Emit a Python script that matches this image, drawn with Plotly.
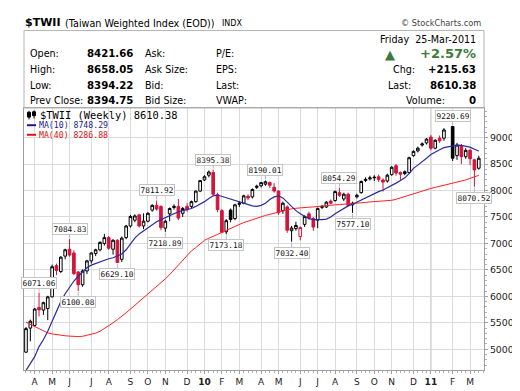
import plotly.graph_objects as go
import pandas as pd

# ---------------- data (weekly bars, dated by week start) ----------------
weeks = pd.date_range("2009-03-23", periods=105, freq="W-MON")

open_ = [4945, 5400, 5450, 5790, 5740, 5770, 5990, 6580, 6470, 6760,
         6890, 6820, 6460, 6220, 6480, 6670, 6810, 6880, 7000, 7110,
         6890, 7060, 6700, 7110, 7330, 7440, 7540, 7330, 7420, 7630,
         7720, 7700, 7290, 7560, 7680, 7700, 7570, 7700, 7700, 7790,
         7990, 8200, 8290, 8340, 7920, 7620, 7220, 7630, 7470, 7740,
         7760, 7890, 7880, 8060, 8090, 8120, 8150, 8060, 7990, 7620,
         7690, 7240, 7280, 7130, 7360, 7560, 7470, 7440, 7680, 7690,
         7800, 7810, 7960, 7840, 7930, 7730, 7880, 7960, 8190, 8220,
         8240, 8260, 8200, 8180, 8300, 8470, 8340, 8355, 8340, 8660,
         8750, 8860, 8900, 9010, 8800, 8990, 8990, None, 9210, 8660,
         8850, 8640, 8760, 8580, 8421.66]
high = [5420, 5560, 5780, 6071.06, 5900, 6010, 6600, 6620, 6760, 6900,
        7084.83, 6870, 6480, 6510, 6690, 6830, 6900, 7040, 7180, 7140,
        7080, 7080, 7130, 7350, 7540, 7550, 7560, 7570, 7590, 7740,
        7811.92, 7720, 7450, 7680, 7740, 7840, 7690, 7760, 7810, 8000,
        8200, 8290, 8380, 8395.38, 7960, 7650, 7460, 7660, 7750, 7800,
        7920, 7930, 8040, 8110, 8160, 8190.01, 8170, 8140, 8000, 7790,
        7720, 7330, 7410, 7320, 7530, 7600, 7500, 7680, 7730, 7800,
        7830, 8000, 8054.29, 7960, 7960, 7790, 7940, 8190, 8250, 8280,
        8290, 8300, 8230, 8320, 8460, 8500, 8360, 8380, 8640, 8760,
        8830, 8910, 8990, 9050, 8970, 9040, 9180, None, 9220.69, 8900,
        8880, 8800, 8790, 8600, 8658.05]
low = [4930, 5150, 5420, 5620, 5650, 5550, 5980, 6400, 6440, 6700,
       6750, 6400, 6100.08, 6180, 6420, 6620, 6760, 6850, 6960, 6880,
       6790, 6629.10, 6650, 7080, 7300, 7400, 7300, 7270, 7400, 7600,
       7620, 7250, 7218.89, 7420, 7640, 7440, 7500, 7600, 7660, 7770,
       7970, 8180, 8250, 7900, 7590, 7190, 7173.18, 7400, 7440, 7690,
       7740, 7820, 7850, 8030, 8060, 8090, 8050, 7960, 7540, 7560,
       7200, 7032.40, 7240, 7060, 7310, 7450, 7240, 7290, 7650, 7670,
       7740, 7790, 7880, 7800, 7700, 7577.10, 7850, 7940, 8160, 8190,
       8180, 8160, 7980, 8150, 8280, 8280, 8200, 8290, 8320, 8640,
       8720, 8830, 8870, 8760, 8780, 8900, 8940, None, 8560, 8580,
       8500, 8600, 8480, 8070.52, 8394.22]
close = [5390, 5530, 5760, 5745, 5880, 5990, 6560, 6490, 6740, 6880,
         6780, 6430, 6220, 6480, 6670, 6820, 6880, 7020, 7110, 6910,
         7060, 6640, 7100, 7330, 7510, 7520, 7330, 7420, 7570, 7720,
         7650, 7300, 7420, 7660, 7700, 7480, 7660, 7640, 7790, 7990,
         8188, 8260, 8350, 7930, 7640, 7210, 7430, 7452, 7730, 7760,
         7900, 7860, 8020, 8080, 8150, 8165, 8100, 7990, 7580, 7760,
         7250, 7290, 7340, 7300, 7510, 7480, 7310, 7660, 7700, 7780,
         7760, 7980, 7910, 7930, 7720, 7760, 7910, 8170, 8210, 8238,
         8250, 8210, 8160, 8290, 8440, 8330, 8310, 8320, 8620, 8740,
         8800, 8880, 8972, 8800, 8950, 8940, 9145, None, 8610, 8860,
         8640, 8760, 8600, 8390, 8610.38]
ma10 = [4600, 4730, 4860, 5050, 5180, 5340, 5530, 5720, 5900, 6050,
        6180, 6290, 6380, 6470, 6540, 6590, 6620, 6650, 6690, 6710,
        6730, 6760, 6800, 6880, 6990, 7100, 7180, 7240, 7300, 7360,
        7410, 7450, 7490, 7530, 7570, 7600, 7620, 7640, 7660, 7700,
        7740, 7790, 7850, 7900, 7915, 7890, 7860, 7830, 7800, 7780,
        7760, 7735, 7710, 7700, 7720, 7760, 7830, 7880, 7900, 7860,
        7780, 7700, 7620, 7560, 7510, 7470, 7450, 7445, 7450, 7460,
        7500, 7560, 7610, 7660, 7710, 7740, 7780, 7830, 7870, 7900,
        7940, 7980, 8010, 8050, 8090, 8140, 8190, 8240, 8320, 8420,
        8480, 8540, 8610, 8680, 8730, 8770, 8810, None, 8850, 8860,
        8855, 8840, 8820, 8780, 8748.29]
ma40 = [5510, 5470, 5430, 5390, 5340, 5310, 5290, 5275, 5265, 5255,
        5248, 5242, 5240, 5245, 5262, 5285, 5305, 5340, 5390, 5440,
        5500, 5560, 5620, 5690, 5760, 5830, 5900, 5970, 6040, 6110,
        6180, 6260, 6330, 6410, 6500, 6590, 6680, 6780, 6860, 6920,
        6990, 7060, 7100, 7130, 7170, 7210, 7250, 7290, 7330, 7370,
        7395, 7420, 7450, 7480, 7510, 7530, 7550, 7570, 7590, 7620,
        7640, 7655, 7665, 7675, 7680, 7685, 7690, 7700, 7710, 7718,
        7725, 7730, 7735, 7740, 7745, 7755, 7765, 7770, 7775, 7785,
        7790, 7795, 7800, 7805, 7815, 7835, 7860, 7890, 7910, 7940,
        7970, 8000, 8020, 8040, 8060, 8080, 8100, None, 8130, 8150,
        8175, 8200, 8230, 8260, 8286.88]

pivot_high_idx = [3, 10, 30, 43, 55, 72, 98]
pivot_low_idx = [12, 21, 32, 46, 61, 75, 103]

month_letters = ["J", "F", "M", "A", "M", "J", "J", "A", "S", "O", "N", "D"]
y_ticks = [5000, 5500, 6000, 6500, 7000, 7500, 8000, 8500, 9000]

header_rows = [("Open:", "8421.66", "Ask:", "P/E:"),
               ("High:", "8658.05", "Ask Size:", "EPS:"),
               ("Low:", "8394.22", "Bid:", "Last:"),
               ("Prev Close:", "8394.75", "Bid Size:", "VWAP:")]

# ---------------- styling ----------------
RED = "#d3143c"
BLUE_LINE = "#2b2ba0"
RED_LINE = "#ff2020"
GRID = "#dadada"
SANS = "DejaVu Sans"
MONO = "DejaVu Sans Mono"

W, H = 520, 391
L, R, T, B = 16, 44, 100, 17
PW, PH = W - L - R, H - T - B


def px(x):
    return (x - L) / PW


def py(y):
    return (H - B - y) / PH


# split bars by colour rule (close vs previous close)
groups = {"black": [], "red": []}
for i in range(len(weeks)):
    if close[i] is None:
        continue
    prev = close[i - 1] if i > 0 else None
    key = "red" if (prev is not None and close[i] < prev) else "black"
    groups[key].append(i)

fig = go.Figure()
for key, col in (("black", "#000000"), ("red", RED)):
    idx = groups[key]
    fig.add_trace(go.Candlestick(
        x=[weeks[i] for i in idx],
        open=[open_[i] for i in idx], high=[high[i] for i in idx],
        low=[low[i] for i in idx], close=[close[i] for i in idx],
        increasing=dict(fillcolor="white", line=dict(color=col, width=1)),
        decreasing=dict(fillcolor=col, line=dict(color=col, width=1)),
        whiskerwidth=0, showlegend=False, hoverinfo="skip",
    ))

fig.add_trace(go.Scatter(x=weeks, y=ma40, mode="lines", connectgaps=True,
                         line=dict(color=RED_LINE, width=1), showlegend=False,
                         hoverinfo="skip"))
fig.add_trace(go.Scatter(x=weeks, y=ma10, mode="lines", connectgaps=True,
                         line=dict(color=BLUE_LINE, width=1.2), showlegend=False,
                         hoverinfo="skip"))

# month ticks at first week of each month
tickvals, ticktext, year_lines = [], [], []
for i in range(1, len(weeks)):
    if weeks[i].month != weeks[i - 1].month:
        tickvals.append(weeks[i])
        if weeks[i].month == 1:
            ticktext.append("<b>%02d</b>" % (weeks[i].year % 100))
            year_lines.append(weeks[i])
        else:
            ticktext.append(month_letters[weeks[i].month - 1])

annotations = []
label_font = dict(family=MONO, size=7.8, color="#111")
for i in pivot_high_idx:
    annotations.append(dict(x=weeks[i], y=high[i], xref="x", yref="y",
                            text="%.2f" % high[i], showarrow=True, ax=0, ay=-10,
                            arrowhead=0, arrowwidth=1, arrowcolor="#b8b8b8", standoff=1,
                            bgcolor="white", bordercolor="#c4c4c4", borderwidth=1, borderpad=0.5,
                            font=label_font))
for i in pivot_low_idx:
    annotations.append(dict(x=weeks[i], y=low[i], xref="x", yref="y",
                            text="%.2f" % low[i], showarrow=True, ax=0, ay=11,
                            arrowhead=0, arrowwidth=1, arrowcolor="#b8b8b8", standoff=1,
                            bgcolor="white", bordercolor="#c4c4c4", borderwidth=1, borderpad=0.5,
                            font=label_font))


def txt(x, y, s, anchor="left", size=9.5, color="#000", family=SANS):
    annotations.append(dict(x=px(x), y=py(y), xref="paper", yref="paper", text=s,
                            showarrow=False, xanchor=anchor, yanchor="middle",
                            font=dict(family=family, size=size, color=color)))


# title line
txt(15, 11, "<b>$TWII</b>", size=11)
txt(55, 11.5, "(Taiwan Weighted Index (EOD))", size=9.6)
txt(212, 11.5, "INDX", size=8)
txt(475, 11.5, "© StockCharts.com", anchor="right", size=8.2, color="#444")

# header box contents
row_y = [43.5, 60, 76, 92]
for (lab, val, c2, c3), y in zip(header_rows, row_y):
    txt(20, y, lab, size=9.6)
    txt(127, y, "<b>" + val + "</b>", anchor="right", size=10.2)
    txt(135, y, c2, size=9.6)
    txt(206, y, c3, size=9.6)
txt(470, 28, "Friday  25-Mar-2011", anchor="right", size=9.6)
txt(470, 43.5, "<b>+2.57%</b>", anchor="right", size=13, color="#3b7a3b")
txt(375, 44, "▲", size=13, color="#3b7a3b")
txt(383, 60, "Chg:", size=9.6)
txt(470, 60, "<b>+215.63</b>", anchor="right", size=10.2)
txt(378, 76, "Last:", size=9.6)
txt(470, 76, "<b>8610.38</b>", anchor="right", size=10.2)
txt(396, 92, "Volume:", size=9.6)
txt(470, 92, "<b>0</b>", anchor="right", size=10.2)

# in-chart legend
txt(30, 107.5, "$TWII (Weekly) 8610.38", size=10.4, family=MONO)
txt(29, 118, "MA(10) 8748.29", size=8.2, color="#1a1a8a", family=MONO)
txt(29, 128, "MA(40) 8286.88", size=8.2, color="#e01010", family=MONO)

shapes = [
    dict(type="rect", xref="paper", yref="paper", x0=px(16), x1=px(476), y0=py(100), y1=py(19),
         line=dict(color="#b4b4b4", width=1)),
    dict(type="line", xref="paper", yref="paper", x0=px(19), x1=px(28), y0=py(118), y1=py(118),
         line=dict(color="#1a1a8a", width=2)),
    dict(type="line", xref="paper", yref="paper", x0=px(19), x1=px(28), y0=py(128), y1=py(128),
         line=dict(color="#e01010", width=2)),
    # tiny candlestick icon
    dict(type="line", xref="paper", yref="paper", x0=px(21), x1=px(21), y0=py(103), y1=py(112),
         line=dict(color="#000", width=1)),
    dict(type="rect", xref="paper", yref="paper", x0=px(19.5), x1=px(22.5), y0=py(104.5), y1=py(109.5),
         line=dict(color="#000", width=1), fillcolor="#000"),
    dict(type="line", xref="paper", yref="paper", x0=px(26), x1=px(26), y0=py(102.5), y1=py(111),
         line=dict(color="#000", width=1)),
    dict(type="rect", xref="paper", yref="paper", x0=px(24.5), x1=px(27.5), y0=py(104), y1=py(108),
         line=dict(color="#000", width=1), fillcolor="#000"),
]
for d in year_lines:
    shapes.append(dict(type="line", xref="x", yref="paper", x0=d, x1=d, y0=0, y1=1,
                       line=dict(color="#b0b0b0", width=1), layer="below"))

x0 = weeks[0] - pd.Timedelta(days=3.2)
x1 = weeks[-1] + pd.Timedelta(days=8.4)

fig.update_layout(
    width=W, height=H, margin=dict(l=L, r=R, t=T, b=B),
    paper_bgcolor="white", plot_bgcolor="white",
    boxmode="overlay", boxgap=0.22, boxgroupgap=0.22,
    showlegend=False, annotations=annotations, shapes=shapes,
    xaxis=dict(type="date", range=[x0, x1], rangeslider=dict(visible=False),
               tickvals=tickvals, ticktext=ticktext, showgrid=True, gridcolor=GRID, gridwidth=1,
               ticks="outside", ticklen=3, tickcolor="#a0a0a0",
               minor=dict(ticks="outside", ticklen=2, tickcolor="#b0b0b0",
                          dtick=7 * 86400000, tick0=weeks[0], showgrid=False),
               showline=True, linecolor="#a0a0a0", linewidth=1, mirror=True, zeroline=False,
               tickfont=dict(family=SANS, size=9, color="#222"), tickangle=0, fixedrange=True),
    yaxis=dict(side="right", range=[4608, 9560], tickvals=y_ticks,
               ticktext=[str(v) for v in y_ticks], showgrid=True, gridcolor=GRID, gridwidth=1,
               ticks="outside", ticklen=3, tickcolor="#a0a0a0",
               minor=dict(ticks="outside", ticklen=2, tickcolor="#b0b0b0", dtick=100, showgrid=False),
               showline=True, linecolor="#a0a0a0", linewidth=1, mirror=True, zeroline=False,
               tickfont=dict(family=SANS, size=9.4, color="#222"), fixedrange=True),
)

fig.write_html("out.html")
